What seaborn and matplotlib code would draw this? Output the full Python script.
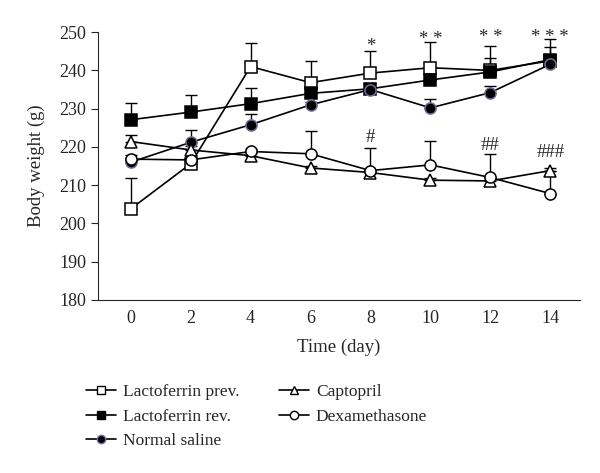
import numpy as np
import pandas as pd
import matplotlib
matplotlib.use("Agg")
import matplotlib.pyplot as plt
import seaborn as sns

days = [0, 2, 4, 6, 8, 10, 12, 14]

lf_prev = [203.8, 215.6, 241.0, 236.8, 239.3, 240.7, 240.0, 242.5]
lf_prev_err = [8.0, 1.5, 6.1, 5.7, 5.8, 6.6, 6.5, 3.5]

lf_rev = [227.1, 229.1, 231.3, 234.0, 235.2, 237.5, 239.6, 242.8]
lf_rev_err = [4.5, 4.4, 4.0, 1.5, 1.6, 1.8, 3.6, 5.3]

saline = [216.0, 221.2, 225.8, 231.0, 235.0, 230.2, 234.2, 241.6]
saline_err = [1.0, 3.2, 2.8, 0.8, 0.6, 2.3, 1.6, 0.8]

captopril = [221.4, 219.2, 217.7, 214.5, 213.3, 211.3, 211.1, 213.8]
captopril_err = [1.7, 1.0, 0.8, 0.5, 0.6, 0.5, 0.8, 0.8]

dexa = [216.8, 216.6, 218.8, 218.2, 213.8, 215.3, 212.0, 207.8]
dexa_err = [1.2, 1.0, 0.6, 6.0, 6.0, 6.3, 6.2, 6.0]

star_labels = ["*", "* *", "* *", "* * *"]
star_days = [8, 10, 12, 14]
star_y = [244.0, 245.9, 246.5, 246.5]

hash_labels = ["#", "##", "###"]
hash_days = [8, 12, 14]
hash_y = [220.3, 218.1, 216.2]

series = [
    ("Lactoferrin prev.", lf_prev, lf_prev_err, dict(marker="s", mfc="white", mec="black")),
    ("Lactoferrin rev.", lf_rev, lf_rev_err, dict(marker="s", mfc="black", mec="black")),
    ("Normal saline", saline, saline_err, dict(marker="o", mfc="black", mec="#7a6a9a")),
    ("Captopril", captopril, captopril_err, dict(marker="^", mfc="white", mec="black")),
    ("Dexamethasone", dexa, dexa_err, dict(marker="o", mfc="white", mec="black")),
]

sns.set_style("ticks")
plt.rcParams["font.family"] = ["Liberation Serif", "DejaVu Serif"]

fig = plt.figure(figsize=(6, 4.73), dpi=100)
ax = fig.add_axes([0.163, 0.366, 0.804, 0.566])

handles = {}
for name, vals, err, st in series:
    df = pd.DataFrame({"day": days, "weight": vals})
    ax.errorbar(days, vals, yerr=[np.zeros(len(err)), err], fmt="none",
                ecolor="black", elinewidth=1.0, capsize=4, capthick=1.0, zorder=2)
    sns.lineplot(data=df, x="day", y="weight", ax=ax, color="black", lw=1.2,
                 markersize=8, mew=1.1, zorder=3, **st)
    handles[name] = plt.Line2D([], [], color="black", lw=1.2, markersize=6, mew=1.0, **st)

for d, y, t in zip(star_days, star_y, star_labels):
    ax.text(d, y, t, ha="center", va="bottom", fontsize=13.5)
for d, y, t in zip(hash_days, hash_y, hash_labels):
    ax.text(d, y, t, ha="center", va="bottom", fontsize=13.5)

ax.set_xlim(-1.1, 15)
ax.set_ylim(180, 250)
ax.set_xticks(days)
ax.set_yticks(np.arange(180, 251, 10))
ax.tick_params(axis="x", length=0, labelsize=13, pad=7)
ax.tick_params(axis="y", direction="out", length=5, labelsize=13)
sns.despine(ax=ax)
ax.set_xlabel("Time (day)", fontsize=13.5, labelpad=9)
ax.set_ylabel("Body weight (g)", fontsize=13.5, labelpad=10)

order = ["Lactoferrin prev.", "Lactoferrin rev.", "Normal saline", "Captopril", "Dexamethasone"]
fig.legend([handles[n] for n in order], order, ncol=2, loc="upper left",
           bbox_to_anchor=(0.118, 0.222), frameon=False, fontsize=12.5,
           handlelength=1.7, handletextpad=0.4, labelspacing=0.5, columnspacing=2.3)

fig.savefig("out.png", dpi=100)
